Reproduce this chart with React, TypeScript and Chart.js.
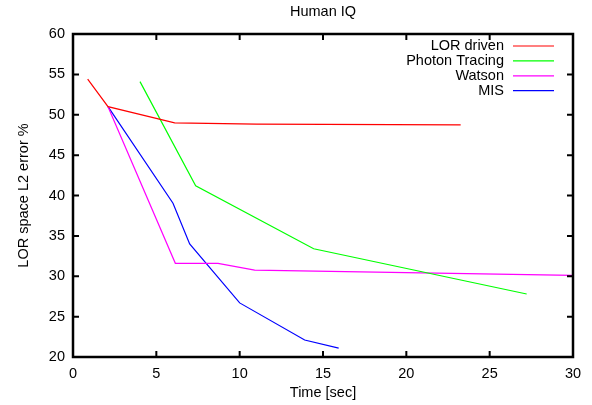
import React, { useEffect, useRef } from "react";
import { Chart, registerables } from "chart.js";
Chart.register(...registerables);

const chartTitle = "Human IQ";
const xTitle = "Time [sec]";
const yTitle = "LOR space L2 error %";

const seriesNames = ["LOR driven", "Photon Tracing", "Watson", "MIS"];
const seriesColors = ["#ff0000", "#00ff00", "#ff00ff", "#0000ff"];

const lorX = [0.88, 2.1, 6.1, 11, 23.26];
const lorY = [54.4, 51.0, 49.0, 48.85, 48.74];

const photonX = [4.02, 7.36, 14.44, 27.22];
const photonY = [54.1, 41.2, 33.4, 27.8];

const watsonX = [2.1, 6.14, 8.7, 10.9, 30];
const watsonY = [51.0, 31.6, 31.6, 30.75, 30.1];

const misX = [2.1, 6.0, 7.0, 10.0, 13.9, 15.94];
const misY = [51.0, 39.05, 34.0, 26.7, 22.1, 21.1];

const xTicks = [0, 5, 10, 15, 20, 25, 30];
const yTicks = [20, 25, 30, 35, 40, 45, 50, 55, 60];

const FONT = "Liberation Sans, Arial, sans-serif";
const FS = 14.5;

function zip(xs: number[], ys: number[]) {
  return xs.map((x, i) => ({ x, y: ys[i] }));
}

const decorPlugin = {
  id: "decor",
  afterDraw(chart: any) {
    const { ctx, chartArea } = chart;
    const { left, right, top, bottom } = chartArea;
    const xs = chart.scales.x;
    const ys = chart.scales.y;
    ctx.save();
    ctx.strokeStyle = "#000";
    ctx.lineWidth = 2.5;
    ctx.strokeRect(left, top, right - left, bottom - top);
    ctx.lineWidth = 2;
    const tl = 6;
    ctx.beginPath();
    xTicks.forEach((v) => {
      const px = xs.getPixelForValue(v);
      ctx.moveTo(px, bottom);
      ctx.lineTo(px, bottom - tl);
      ctx.moveTo(px, top);
      ctx.lineTo(px, top + tl);
    });
    yTicks.forEach((v) => {
      const py = ys.getPixelForValue(v);
      ctx.moveTo(left, py);
      ctx.lineTo(left + tl, py);
      ctx.moveTo(right, py);
      ctx.lineTo(right - tl, py);
    });
    ctx.stroke();

    ctx.fillStyle = "#000";
    ctx.font = `${FS}px ${FONT}`;
    ctx.textAlign = "center";
    ctx.textBaseline = "middle";
    const cx = (left + right) / 2;
    ctx.fillText(chartTitle, cx, 12);
    ctx.fillText(xTitle, cx, 393);
    ctx.save();
    ctx.translate(24, (top + bottom) / 2);
    ctx.rotate(-Math.PI / 2);
    ctx.fillText(yTitle, 0, 0);
    ctx.restore();

    // legend
    ctx.textAlign = "right";
    chart.data.datasets.forEach((ds: any, i: number) => {
      const y = 46 + i * 14.9;
      ctx.fillStyle = "#000";
      ctx.fillText(ds.label, 504, y);
      ctx.strokeStyle = ds.borderColor;
      ctx.lineWidth = 1.2;
      ctx.beginPath();
      ctx.moveTo(513, y);
      ctx.lineTo(554, y);
      ctx.stroke();
    });
    ctx.restore();
  },
};

export default function App() {
  const ref = useRef<HTMLCanvasElement>(null);
  useEffect(() => {
    const series = [
      zip(lorX, lorY),
      zip(photonX, photonY),
      zip(watsonX, watsonY),
      zip(misX, misY),
    ];
    const chart = new Chart(ref.current!, {
      type: "line",
      data: {
        datasets: series.map((d, i) => ({
          label: seriesNames[i],
          data: d,
          borderColor: seriesColors[i],
          backgroundColor: seriesColors[i],
          borderWidth: 1.2,
          pointRadius: 0,
          tension: 0,
          fill: false,
        })),
      },
      options: {
        responsive: false,
        animation: false,
        layout: { padding: { top: 34, right: 19, left: 0, bottom: 0 } },
        plugins: {
          legend: { display: false },
          title: { display: false },
          tooltip: { enabled: false },
        },
        scales: {
          x: {
            type: "linear",
            min: 0,
            max: 30,
            afterFit: (s: any) => {
              s.height = 48;
            },
            afterBuildTicks: (s: any) => {
              s.ticks = xTicks.map((v) => ({ value: v }));
            },
            grid: { display: false, drawTicks: false },
            border: { display: false },
            ticks: {
              padding: 8,
              color: "#000",
              font: { family: FONT, size: FS },
              maxRotation: 0,
            },
          },
          y: {
            type: "linear",
            min: 20,
            max: 60,
            afterFit: (s: any) => {
              s.width = 73;
            },
            afterBuildTicks: (s: any) => {
              s.ticks = yTicks.map((v) => ({ value: v }));
            },
            grid: { display: false, drawTicks: false },
            border: { display: false },
            ticks: {
              padding: 8,
              color: "#000",
              font: { family: FONT, size: FS },
            },
          },
        },
      },
      plugins: [decorPlugin],
    });
    return () => chart.destroy();
  }, []);
  return (
    <div style={{ position: "fixed", left: 0, top: 0, width: 592, height: 405, background: "#fff" }}>
      <canvas ref={ref} width={592} height={405} />
    </div>
  );
}
